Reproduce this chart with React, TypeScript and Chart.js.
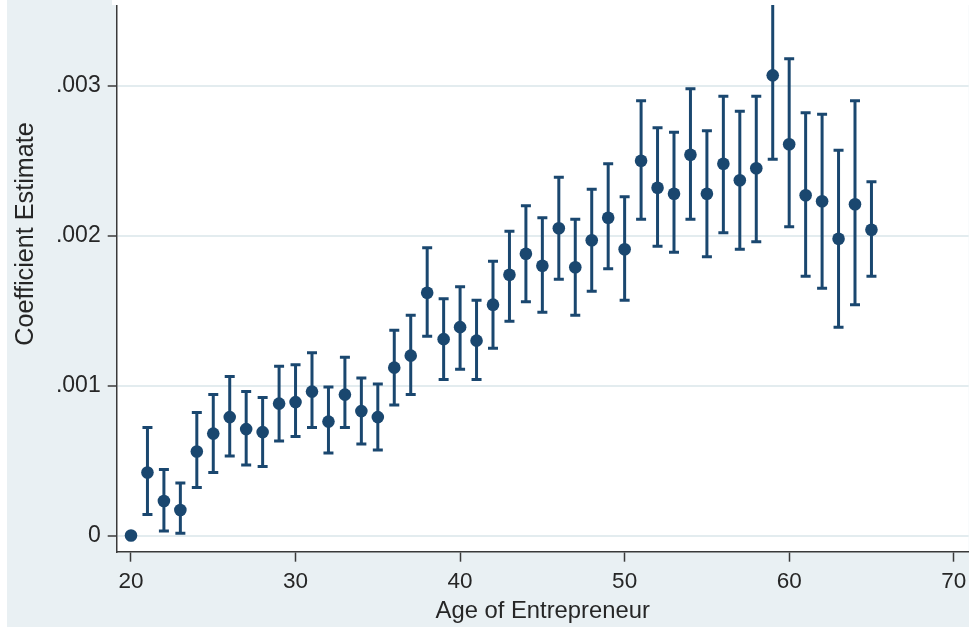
import React, { useEffect, useRef } from "react";
import { Chart, registerables } from "chart.js";

Chart.register(...registerables);

// ---- data ----
const ages = [20, 21, 22, 23, 24, 25, 26, 27, 28, 29, 30, 31, 32, 33, 34, 35, 36, 37, 38, 39, 40, 41, 42, 43, 44, 45, 46, 47, 48, 49, 50, 51, 52, 53, 54, 55, 56, 57, 58, 59, 60, 61, 62, 63, 64, 65];
const coef = [0, 0.00042, 0.00023, 0.00017, 0.00056, 0.00068, 0.00079, 0.00071, 0.00069, 0.00088, 0.00089, 0.00096, 0.00076, 0.00094, 0.00083, 0.00079, 0.00112, 0.0012, 0.00162, 0.00131, 0.00139, 0.0013, 0.00154, 0.00174, 0.00188, 0.0018, 0.00205, 0.00179, 0.00197, 0.00212, 0.00191, 0.0025, 0.00232, 0.00228, 0.00254, 0.00228, 0.00248, 0.00237, 0.00245, 0.00307, 0.00261, 0.00227, 0.00223, 0.00198, 0.00221, 0.00204];
const ciLow = [0, 0.00014, 0.00003, 0.000015, 0.00032, 0.00042, 0.00053, 0.00047, 0.00046, 0.00063, 0.00066, 0.00072, 0.00055, 0.00072, 0.00061, 0.00057, 0.00087, 0.00094, 0.00133, 0.00104, 0.00111, 0.00104, 0.00125, 0.00143, 0.00156, 0.00149, 0.00171, 0.00147, 0.00163, 0.00178, 0.00157, 0.00211, 0.00193, 0.00189, 0.00211, 0.00186, 0.00202, 0.00191, 0.00196, 0.00251, 0.00206, 0.00173, 0.00165, 0.00139, 0.00154, 0.00173];
const ciHigh = [0, 0.00072, 0.00044, 0.00035, 0.00082, 0.00094, 0.00106, 0.00096, 0.00092, 0.00113, 0.00114, 0.00122, 0.00099, 0.00119, 0.00105, 0.00101, 0.00137, 0.00147, 0.00192, 0.00158, 0.00166, 0.00157, 0.00183, 0.00203, 0.0022, 0.00212, 0.00239, 0.00211, 0.00231, 0.00248, 0.00226, 0.0029, 0.00272, 0.00269, 0.00298, 0.0027, 0.00293, 0.00283, 0.00293, 0.00364, 0.00318, 0.00282, 0.00281, 0.00257, 0.0029, 0.00236];
const xTickValues = [20, 30, 40, 50, 60, 70];
const yTickValues = [0, 0.001, 0.002, 0.003];
const yTickLabels = ["0", ".001", ".002", ".003"];
const xTitle = "Age of Entrepreneur";
const yTitle = "Coefficient Estimate";

// ---- styles ----
const NAVY = "#1a476f";
const BG = "#e9f0f3";
const GRID = "#e3ecef";
const AXIS = "#3a3a3a";
const TEXT = "#262626";
const FONT = "'Liberation Sans', Arial, Helvetica, sans-serif";

const plotBg = {
  id: "plotBg",
  beforeDraw(chart: any) {
    const { ctx, chartArea } = chart;
    ctx.save();
    ctx.fillStyle = "#ffffff";
    ctx.fillRect(chartArea.left, chartArea.top, chartArea.right - chartArea.left, chartArea.bottom - chartArea.top);
    ctx.restore();
  },
};

const errorBars = {
  id: "errorBars",
  beforeDatasetsDraw(chart: any) {
    const { ctx, chartArea } = chart;
    const x = chart.scales.x;
    const y = chart.scales.y;
    ctx.save();
    ctx.beginPath();
    ctx.rect(chartArea.left, chartArea.top, chartArea.right - chartArea.left, chartArea.bottom - chartArea.top);
    ctx.clip();
    ctx.strokeStyle = NAVY;
    ctx.lineWidth = 3;
    ctx.lineCap = "butt";
    ages.forEach((a, i) => {
      const px = x.getPixelForValue(a);
      const top = y.getPixelForValue(ciHigh[i]);
      const bot = y.getPixelForValue(ciLow[i]);
      ctx.beginPath();
      ctx.moveTo(px, top);
      ctx.lineTo(px, bot);
      ctx.moveTo(px - 5, top);
      ctx.lineTo(px + 5, top);
      ctx.moveTo(px - 5, bot);
      ctx.lineTo(px + 5, bot);
      ctx.stroke();
    });
    ctx.restore();
  },
};

export default function App() {
  const canvasRef = useRef<HTMLCanvasElement | null>(null);

  useEffect(() => {
    if (!canvasRef.current) return;
    const chart = new Chart(canvasRef.current, {
      type: "scatter",
      data: {
        datasets: [
          {
            data: ages.map((a, i) => ({ x: a, y: coef[i] })),
            pointRadius: 6.3,
            pointHoverRadius: 6.3,
            pointStyle: "circle",
            backgroundColor: NAVY,
            borderWidth: 0,
          },
        ],
      },
      options: {
        animation: false,
        responsive: true,
        maintainAspectRatio: false,
        layout: { padding: { top: 5, left: 0, right: 0, bottom: 0 } },
        plugins: { legend: { display: false }, tooltip: { enabled: false } },
        scales: {
          x: {
            type: "linear",
            min: 19.131,
            max: 70.91,
            afterBuildTicks: (s: any) => {
              s.ticks = xTickValues.map((v) => ({ value: v }));
            },
            afterFit: (s: any) => {
              s.height = 75.3;
              s.paddingLeft = 0;
              s.paddingRight = 0;
            },
            grid: { drawOnChartArea: false, tickColor: AXIS, tickLength: 10, tickWidth: 1.5 },
            border: { display: true, color: AXIS, width: 1.5 },
            ticks: {
              padding: 7,
              color: TEXT,
              font: { family: FONT, size: 22.5 },
              callback: (v: any) => String(v),
            },
            title: {
              display: true,
              text: xTitle,
              color: TEXT,
              font: { family: FONT, size: 23.8 },
              padding: { top: 0, bottom: 1.5 },
            },
          },
          y: {
            type: "linear",
            min: -0.000108,
            max: 0.004131,
            afterBuildTicks: (s: any) => {
              s.ticks = yTickValues.map((v) => ({ value: v }));
            },
            afterFit: (s: any) => {
              s.width = 109.7;
              s.paddingTop = 0;
              s.paddingBottom = 0;
            },
            grid: { color: GRID, lineWidth: 2, tickColor: AXIS, tickLength: 9, tickWidth: 1.5 },
            border: { display: true, color: AXIS, width: 1.5 },
            ticks: {
              padding: 7,
              color: TEXT,
              font: { family: FONT, size: 23 },
              callback: (_v: any, idx: number) => yTickLabels[idx],
            },
            title: {
              display: true,
              text: yTitle,
              color: TEXT,
              font: { family: FONT, size: 25.2 },
              padding: { top: 3.5, bottom: 0 },
            },
          },
        },
      },
      plugins: [plotBg, errorBars],
    } as any);
    return () => chart.destroy();
  }, []);

  return (
    <div
      style={{
        position: "fixed",
        left: 0,
        top: 0,
        width: 969,
        height: 627,
        overflow: "hidden",
        background: "#ffffff",
      }}
    >
      <div
        style={{
          position: "absolute",
          left: 7,
          top: -90,
          width: 968,
          height: 717,
          background: BG,
        }}
      >
        <canvas ref={canvasRef} />
      </div>
      <div
        style={{
          position: "absolute",
          left: 112,
          top: 0,
          width: 857,
          height: 5,
          background: "#ffffff",
        }}
      />
    </div>
  );
}
